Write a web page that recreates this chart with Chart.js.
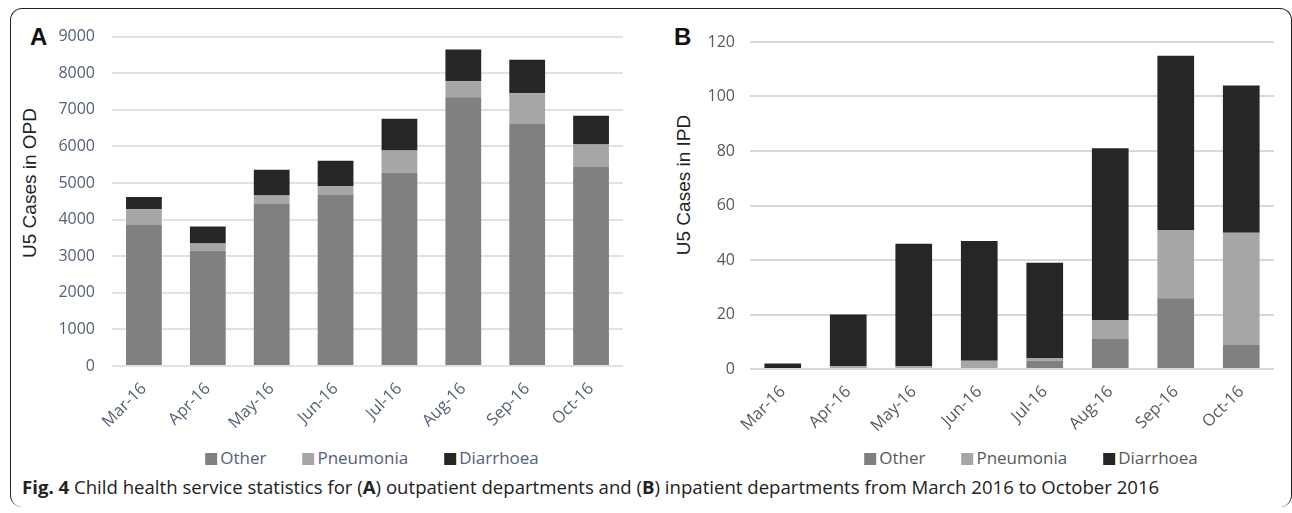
<!DOCTYPE html>
<html>
<head>
<meta charset="utf-8">
<script src="https://cdn.jsdelivr.net/npm/chart.js@4.4.1/dist/chart.umd.min.js"></script>
<style>
  html, body { margin: 0; padding: 0; background: #fff; overflow: hidden; }
  body { width: 1292px; height: 513px; position: relative; }
  .frame {
    position: absolute; left: 10px; top: 8px; width: 1280px; height: 498px;
    border: 1.5px solid #222; border-bottom: none; border-radius: 12px;
  }
  canvas { position: absolute; }
  .panel-letter {
    position: absolute; font-family: "Liberation Sans", Arial, sans-serif;
    font-weight: bold; font-size: 24px; line-height: 24px; color: #111;
  }
  .ytitle {
    position: absolute; font-family: "Liberation Sans", Arial, sans-serif;
    font-size: 19px; line-height: 20px; color: #222; white-space: nowrap;
    transform: translate(-50%, -50%) rotate(-90deg);
  }
  .legend {
    position: absolute; display: flex; gap: 36px; transform: translateX(-50%);
    font-family: "Open Sans", sans-serif; font-size: 17px; white-space: nowrap;
  }
  .legend span.box { display: inline-block; width: 12px; height: 12px; margin-right: 3px; vertical-align: -1px; }
  .caption {
    position: absolute; left: 22px; top: 474px; font-family: "Open Sans", sans-serif;
    font-size: 18.6px; color: #222; white-space: nowrap;
  }
</style>
</head>
<body>
<div class="frame"></div>

<div class="panel-letter" style="left:30px; top:25px;">A</div>
<div class="panel-letter" style="left:674px; top:25px;">B</div>
<div class="ytitle" style="left:30px; top:183px;">U5 Cases in OPD</div>
<div class="ytitle" style="left:684px; top:185px;">U5 Cases in IPD</div>

<canvas id="chartA" width="620" height="430" style="left:10px; top:10px;"></canvas>
<canvas id="chartB" width="630" height="430" style="left:650px; top:10px;"></canvas>

<div id="legendA" class="legend" style="left:372px; top:446px; color:#55607a;"></div>
<div id="legendB" class="legend" style="left:1031px; top:446px; color:#595959;"></div>

<div class="caption"><b>Fig. 4</b> Child health service statistics for (<b>A</b>) outpatient departments and (<b>B</b>) inpatient departments from March 2016 to October 2016</div>

<script>
// Meses
const months = ['Mar-16', 'Apr-16', 'May-16', 'Jun-16', 'Jul-16', 'Aug-16', 'Sep-16', 'Oct-16'];

// Panel A: outpatient (OPD)
const opdOther = [3850, 3150, 4440, 4670, 5280, 7340, 6610, 5440];
const opdPneumonia = [430, 200, 220, 250, 610, 440, 845, 615];
const opdDiarrhoea = [340, 460, 700, 690, 865, 865, 910, 780];

// Panel B: inpatient (IPD)
const ipdOther = [0, 0, 0, 0, 3, 11, 26, 9];
const ipdPneumonia = [0, 1, 1, 3, 1, 7, 25, 41];
const ipdDiarrhoea = [2, 19, 45, 44, 35, 63, 64, 54];

const yTicksA = { max: 9000, step: 1000 };
const yTicksB = { max: 120, step: 20 };

const colors = { other: '#808080', pneumonia: '#a6a6a6', diarrhoea: '#262626' };

function makeDatasets(other, pneumonia, diarrhoea) {
  return [
    { label: 'Other', data: other, backgroundColor: colors.other },
    { label: 'Pneumonia', data: pneumonia, backgroundColor: colors.pneumonia },
    { label: 'Diarrhoea', data: diarrhoea, backgroundColor: colors.diarrhoea }
  ].map(ds => Object.assign(ds, { categoryPercentage: 1, barPercentage: 0.56, borderWidth: 0 }));
}

// Crea una gráfica apilada
function makeChart(id, datasets, cfg) {
  return new Chart(document.getElementById(id), {
    type: 'bar',
    data: { labels: months, datasets: datasets },
    options: {
      responsive: false,
      animation: false,
      devicePixelRatio: 1,
      layout: { padding: { top: cfg.padTop, right: cfg.padRight, left: 0, bottom: 0 } },
      plugins: { legend: { display: false }, tooltip: { enabled: false } },
      scales: {
        x: {
          stacked: true,
          grid: { display: false },
          border: { display: false },
          ticks: {
            color: cfg.tickColor, minRotation: 45, maxRotation: 45, padding: cfg.xPad,
            font: { family: 'Open Sans', size: 16.5 }
          },
          afterFit: s => { s.height = cfg.xHeight; }
        },
        y: {
          stacked: true,
          min: 0,
          max: cfg.ticks.max,
          border: { display: false },
          grid: { color: cfg.gridColor, lineWidth: 2, drawTicks: false },
          ticks: {
            stepSize: cfg.ticks.step, color: cfg.tickColor, padding: cfg.yPad,
            font: { family: 'Open Sans', size: 16 },
            callback: v => String(v)
          },
          afterFit: s => { s.width = cfg.yWidth; }
        }
      }
    }
  });
}

// Leyenda HTML a partir de las etiquetas del chart
function htmlLegend(chart, elId) {
  const el = document.getElementById(elId);
  const items = Chart.defaults.plugins.legend.labels.generateLabels(chart);
  items.forEach(item => {
    const span = document.createElement('span');
    const box = document.createElement('span');
    box.className = 'box';
    box.style.background = item.fillStyle;
    span.appendChild(box);
    span.appendChild(document.createTextNode(item.text));
    el.appendChild(span);
  });
}

const chartA = makeChart('chartA', makeDatasets(opdOther, opdPneumonia, opdDiarrhoea), {
  ticks: yTicksA, padTop: 26, padRight: 7, yWidth: 102, yPad: 17, xHeight: 74, xPad: 5,
  tickColor: '#55607a', gridColor: '#dfe2ea'
});
const chartB = makeChart('chartB', makeDatasets(ipdOther, ipdPneumonia, ipdDiarrhoea), {
  ticks: yTicksB, padTop: 32, padRight: 6, yWidth: 100, yPad: 15, xHeight: 71, xPad: 5,
  tickColor: '#595959', gridColor: '#d9d9d9'
});

htmlLegend(chartA, 'legendA');
htmlLegend(chartB, 'legendB');
</script>
</body>
</html>
